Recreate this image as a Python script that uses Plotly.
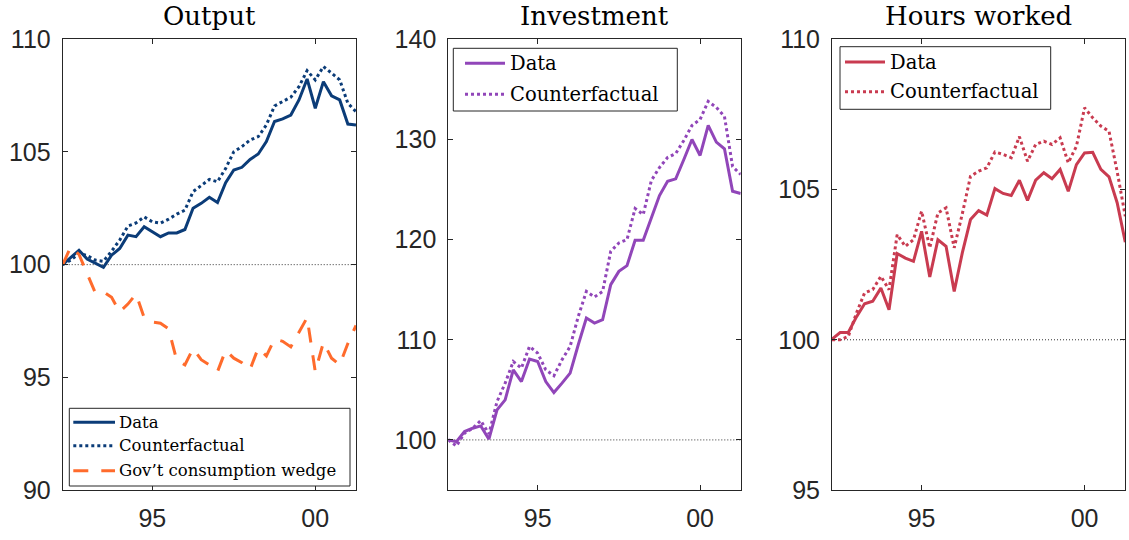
import plotly.graph_objects as go

# Quarterly observations, 1992Q2 .. 2001Q2
first_quarter = 1992.25
n_quarters = 37
quarters = [first_quarter + 0.25 * k for k in range(n_quarters)]

# Output (index, 1992Q2 = 100)
output_data = [100.0, 100.32, 100.64, 100.25, 100.08, 99.88, 100.42, 100.72, 101.31, 101.24,
               101.68, 101.46, 101.24, 101.41, 101.41, 101.56, 102.5, 102.72, 102.99, 102.76,
               103.64, 104.2, 104.32, 104.67, 104.91, 105.46, 106.35, 106.47, 106.64, 107.31,
               108.24, 106.94, 108.12, 107.49, 107.31, 106.24, 106.2]
output_cf = [100.0, 100.2, 100.5, 100.4, 100.2, 100.15, 100.6, 101.09, 101.71, 101.85,
             102.12, 101.9, 101.84, 102.02, 102.24, 102.42, 103.24, 103.53, 103.78, 103.68,
             104.27, 105.01, 105.24, 105.53, 105.68, 106.2, 107.04, 107.24, 107.43, 107.9,
             108.61, 108.2, 108.79, 108.5, 108.2, 107.16, 106.79]
gov_wedge = [100.0, 100.8, 100.45, 99.6, 98.75, 98.8, 98.55, 97.9, 98.25, 98.7,
             97.65, 97.45, 97.4, 97.15, 95.75, 95.55, 96.28, 95.78, 95.55, 95.25,
             96.2, 95.85, 95.65, 95.35, 96.3, 95.95, 96.7, 96.6, 96.35, 97.0,
             97.65, 95.25, 96.55, 95.85, 95.55, 96.5, 97.3]

# Investment
inv_data = [100.0, 99.83, 100.83, 101.17, 101.4, 100.07, 103.0, 104.0, 107.0, 105.83,
            108.07, 107.83, 105.83, 104.73, 105.67, 106.67, 109.5, 112.17, 111.67, 112.0,
            115.5, 116.83, 117.4, 119.93, 119.93, 122.17, 124.4, 125.83, 126.07, 128.0,
            130.0, 128.4, 131.4, 129.73, 129.07, 124.83, 124.6]
inv_cf = [100.0, 99.4, 100.67, 101.17, 101.93, 100.6, 103.83, 105.67, 107.83, 107.17,
          109.33, 108.67, 107.0, 106.4, 108.0, 109.33, 112.33, 114.83, 114.27, 114.83,
          118.83, 119.67, 120.0, 123.1, 122.5, 125.9, 127.2, 128.2, 128.6, 129.9,
          131.4, 132.0, 133.8, 133.2, 132.3, 127.3, 126.5]

# Hours worked
hours_data = [100.02, 100.24, 100.24, 100.76, 101.2, 101.28, 101.72, 101.0, 102.87, 102.72,
              102.61, 103.61, 102.09, 103.33, 103.11, 101.61, 102.9, 104.0, 104.3, 104.15,
              105.03, 104.87, 104.8, 105.31, 104.64, 105.31, 105.56, 105.36, 105.67, 104.94,
              105.83, 106.22, 106.24, 105.67, 105.42, 104.56, 103.25]
hours_cf = [100.0, 100.0, 100.11, 100.89, 101.56, 101.67, 102.11, 101.67, 103.5, 103.11,
            103.33, 104.28, 103.06, 104.22, 104.39, 103.06, 104.2, 105.44, 105.61, 105.72,
            106.25, 106.17, 106.06, 106.76, 105.94, 106.5, 106.61, 106.5, 106.72, 105.89,
            106.44, 107.72, 107.39, 107.11, 106.94, 105.6, 104.11]

panel_titles = ["Output", "Investment", "Hours worked"]
x_tick_vals = [1995, 2000]
x_tick_text = ["95", "00"]
y_ranges = [[90, 110], [95, 140], [95, 110]]
y_ticks = [[90, 95, 100, 105, 110], [100, 110, 120, 130, 140], [95, 100, 105, 110]]

BLUE = "#0b3c78"
ORANGE = "#ff6b2c"
PURPLE = "#9146b9"
RED = "#c93b50"
AXIS = "#262626"

W, H = 1129, 540


def px_x(p):
    return p / W


def px_y(p):
    return 1 - p / H


# axes boxes in pixels (left, right); shared top/bottom
x_boxes = [(62.7, 356.0), (448.3, 740.7), (832.0, 1125.3)]
y_top, y_bot = 39.3, 490.0

fig = go.Figure()

series = [
    [("Data", output_data, BLUE, "solid"),
     ("Counterfactual", output_cf, BLUE, "dot"),
     ("Gov’t consumption wedge", gov_wedge, ORANGE, "15px,13px")],
    [("Data", inv_data, PURPLE, "solid"),
     ("Counterfactual", inv_cf, PURPLE, "dot")],
    [("Data", hours_data, RED, "solid"),
     ("Counterfactual", hours_cf, RED, "dot")],
]

for p, group in enumerate(series):
    xa = "x" if p == 0 else f"x{p + 1}"
    ya = "y" if p == 0 else f"y{p + 1}"
    for name, vals, col, dash in group:
        fig.add_trace(go.Scatter(x=quarters, y=vals, mode="lines", name=name,
                                 line=dict(color=col, width=3, dash=dash),
                                 xaxis=xa, yaxis=ya, showlegend=False))

axis_common = dict(showline=True, linecolor=AXIS, linewidth=1, mirror="allticks",
                   ticks="inside", ticklen=5, tickwidth=1, tickcolor=AXIS,
                   showgrid=False, zeroline=False, automargin=False,
                   tickfont=dict(family="Liberation Sans, Arial, sans-serif", size=25, color=AXIS))

layout = {}
for p in range(3):
    xk = "xaxis" if p == 0 else f"xaxis{p + 1}"
    yk = "yaxis" if p == 0 else f"yaxis{p + 1}"
    xa = "x" if p == 0 else f"x{p + 1}"
    ya = "y" if p == 0 else f"y{p + 1}"
    l, r = x_boxes[p]
    layout[xk] = dict(axis_common, domain=[px_x(l), px_x(r)], anchor=ya,
                      range=[quarters[0], quarters[-1]],
                      tickmode="array", tickvals=x_tick_vals, ticktext=x_tick_text,
                      ticklabelstandoff=6)
    layout[yk] = dict(axis_common, domain=[px_y(y_bot), px_y(y_top)], anchor=xa,
                      range=y_ranges[p], tickmode="array", tickvals=y_ticks[p],
                      ticklabelstandoff=6)

fig.update_layout(**layout)

shapes = []
annotations = []

# thin dotted reference line at 100 in each panel
for p in range(3):
    xa = "x" if p == 0 else f"x{p + 1}"
    ya = "y" if p == 0 else f"y{p + 1}"
    shapes.append(dict(type="line", xref=f"{xa} domain", yref=ya, x0=0, x1=1, y0=100, y1=100,
                       line=dict(color="#333333", width=1, dash="1px,2px"), layer="below"))

# panel titles
title_font = dict(family="DejaVu Serif, serif", size=26, color="black")
for p, t in enumerate(panel_titles):
    l, r = x_boxes[p]
    annotations.append(dict(text=t, x=px_x((l + r) / 2), y=px_y(16), xref="paper", yref="paper",
                            xanchor="center", yanchor="middle", showarrow=False, font=title_font))

# legend boxes: (box left, top, right, bottom, sample x0, x1, text x, row ys, font size)
legend_specs = [
    (69.3, 408.3, 350.0, 486.0, 73.3, 115.0, 117.3, [422.3, 445.7, 470.7], 16.5),
    (453.3, 48.3, 677.3, 111.0, 465.0, 505.0, 508.3, [63.3, 94.3], 19.5),
    (840.0, 46.7, 1050.7, 109.3, 845.0, 885.0, 888.0, [62.0, 91.7], 19.5),
]

for p, spec in enumerate(legend_specs):
    bl, bt, br, bb, sx0, sx1, tx, rows, fs = spec
    shapes.append(dict(type="rect", xref="paper", yref="paper",
                       x0=px_x(bl), x1=px_x(br), y0=px_y(bb), y1=px_y(bt),
                       line=dict(color=AXIS, width=1), fillcolor="white", layer="above"))
    for (name, _, col, dash), ry in zip(series[p], rows):
        shapes.append(dict(type="line", xref="paper", yref="paper",
                           x0=px_x(sx0), x1=px_x(sx1), y0=px_y(ry), y1=px_y(ry),
                           line=dict(color=col, width=3, dash=dash), layer="above"))
        annotations.append(dict(text=name, x=px_x(tx), y=px_y(ry), xref="paper", yref="paper",
                                xanchor="left", yanchor="middle", showarrow=False,
                                font=dict(family="DejaVu Serif, serif", size=fs, color="black")))

fig.update_layout(shapes=shapes, annotations=annotations,
                  width=W, height=H, margin=dict(l=0, r=0, t=0, b=0, autoexpand=False),
                  paper_bgcolor="white", plot_bgcolor="white", showlegend=False)

fig.write_html("out.html")
